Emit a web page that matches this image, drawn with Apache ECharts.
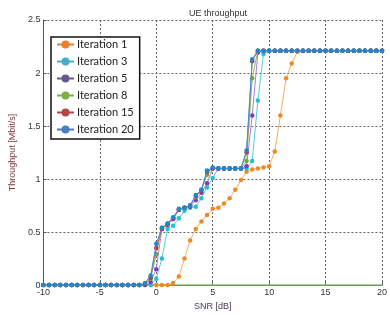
<!DOCTYPE html>
<html>
<head>
<meta charset="utf-8">
<script src="https://cdn.jsdelivr.net/npm/echarts@6/dist/echarts.min.js"></script>
<style>
  html, body { margin: 0; padding: 0; background: #fff; }
  #chart { width: 390px; height: 316px; }
</style>
</head>
<body>
<div id="chart"></div>
<script>
  // SNR sample points [dB]
  const snr = [-10, -9.5, -9, -8.5, -8, -7.5, -7, -6.5, -6, -5.5, -5, -4.5, -4, -3.5, -3, -2.5, -2, -1.5,
    -1, -0.5, 0, 0.5, 1, 1.5, 2, 2.5, 3, 3.5, 4, 4.5, 5, 5.5, 6, 6.5, 7, 7.5, 8, 8.5, 9, 9.5, 10,
    10.5, 11, 11.5, 12, 12.5, 13, 13.5, 14, 14.5, 15, 15.5, 16, 16.5, 17, 17.5, 18, 18.5, 19, 19.5, 20]

  const zeros = [0, 0, 0, 0, 0, 0, 0, 0, 0, 0, 0, 0, 0, 0, 0, 0, 0, 0]  // -10 .. -1.5
  const top12 = [2.21, 2.21, 2.21, 2.21, 2.21, 2.21, 2.21, 2.21, 2.21, 2.21, 2.21, 2.21]

  // throughput [Mbit/s], -1 dB onwards
  const iter1 = zeros.concat([0, 0, 0, 0, 0, 0.02, 0.08, 0.25, 0.42, 0.53, 0.6, 0.66, 0.72, 0.73, 0.77, 0.82, 0.9, 0.99,
    1.07, 1.09, 1.1, 1.11, 1.12, 1.26, 1.6, 1.95, 2.09, 2.2, 2.21, 2.21, 2.21, 2.21, 2.21, 2.21, 2.21, 2.21, 2.21, 2.21,
    2.21, 2.21, 2.21, 2.21, 2.21])
  const iter3 = zeros.concat([0, 0, 0.06, 0.25, 0.53, 0.56, 0.63, 0.7, 0.73, 0.74, 0.82, 0.92, 1.01, 1.1, 1.1, 1.1, 1.1,
    1.1, 1.1, 1.17, 1.74, 2.18, 2.21, 2.21, 2.21, 2.21, 2.21, 2.21, 2.21, 2.21, 2.21, 2.21, 2.21, 2.21, 2.21, 2.21, 2.21,
    2.21, 2.21, 2.21, 2.21, 2.21, 2.21])
  const iter5 = zeros.concat([0, 0.03, 0.15, 0.53, 0.57, 0.62, 0.71, 0.73, 0.74, 0.8, 0.87, 0.96, 1.1, 1.1, 1.1, 1.1, 1.1,
    1.1, 1.12, 1.6, 2.19, 2.21]).concat(top12).concat(top12).concat([2.21])
  const iter8 = zeros.concat([0.01, 0.06, 0.29, 0.54, 0.58, 0.63, 0.71, 0.73, 0.75, 0.83, 0.9, 1.04, 1.1, 1.1, 1.1, 1.1,
    1.1, 1.1, 1.17, 1.95, 2.21, 2.21]).concat(top12).concat(top12).concat([2.21])
  const iter15 = zeros.concat([0.01, 0.07, 0.35, 0.53, 0.57, 0.63, 0.71, 0.73, 0.75, 0.84, 0.89, 1.07, 1.1, 1.1, 1.1, 1.1,
    1.1, 1.1, 1.25, 2.11, 2.21, 2.21]).concat(top12).concat(top12).concat([2.21])
  const iter20 = zeros.concat([0.02, 0.09, 0.39, 0.54, 0.58, 0.64, 0.72, 0.73, 0.75, 0.85, 0.9, 1.08, 1.11, 1.1, 1.1, 1.1,
    1.1, 1.1, 1.27, 2.13, 2.21, 2.21]).concat(top12).concat(top12).concat([2.21])

  const baseX = [-1, 20]
  const baseY = [0, 0]

  const names = ['Iteration 1', 'Iteration 3', 'Iteration 5', 'Iteration 8', 'Iteration 15', 'Iteration 20']
  const values = [iter1, iter3, iter5, iter8, iter15, iter20]
  const markerColors = ['#ee8a22', '#22c0cf', '#7a3cc8', '#72a83a', '#b03a3a', '#1f87cf']
  const lineColors = ['#f4ae64', '#52ccd8', '#a77ee0', '#8fbf5a', '#c46060', '#3a94d6']
  const legendColors = ['#ed7d31', '#4bacc6', '#6a5a8c', '#7fae46', '#b34746', '#4a7ec0']

  const series = [{
    name: 'base',
    type: 'line',
    data: baseX.map((x, i) => [x, baseY[i]]),
    showSymbol: false,
    silent: true,
    lineStyle: { color: '#8cc870', width: 1.5 },
    z: 1
  }]
  names.forEach((name, k) => {
    series.push({
      name: name,
      type: 'line',
      data: snr.map((x, i) => [x, values[k][i]]),
      symbol: 'circle',
      symbolSize: 4.5,
      itemStyle: { color: markerColors[k] },
      lineStyle: { color: lineColors[k], width: 1 },
      emphasis: { disabled: true },
      z: 2 + k
    })
  })

  const chart = echarts.init(document.getElementById('chart'), null, { renderer: 'canvas' })
  chart.setOption({
    animation: false,
    title: {
      text: 'UE throughput',
      left: 213,
      top: 4,
      textAlign: 'center',
      textStyle: { fontSize: 9, fontWeight: 'normal', color: '#333', fontFamily: 'Liberation Sans' }
    },
    legend: {
      data: names.map((n, k) => ({ name: n, itemStyle: { color: legendColors[k] }, lineStyle: { color: legendColors[k], width: 2 } })),
      orient: 'vertical',
      left: 51,
      top: 37,
      itemWidth: 17,
      itemHeight: 10,
      itemGap: 6,
      padding: [2, 6, 4, 5],
      backgroundColor: '#fff',
      borderColor: '#111',
      borderWidth: 1.5,
      borderRadius: 0,
      textStyle: { fontSize: 11, color: '#222', fontFamily: 'Lato', padding: [0, 0, 0, -2] }
    },
    grid: { left: 36, right: 4, top: 20, bottom: 28, containLabel: false },
    xAxis: {
      type: 'value',
      min: -10,
      max: 20,
      interval: 5,
      name: 'SNR [dB]',
      nameLocation: 'middle',
      nameGap: 14,
      nameTextStyle: { fontSize: 9, color: '#4a3c58', fontFamily: 'Liberation Sans' },
      axisLine: { onZero: false, lineStyle: { color: '#555', width: 1 } },
      axisTick: { inside: true, length: 3, lineStyle: { color: '#555' } },
      axisLabel: { fontSize: 9, color: '#333', margin: 3, fontFamily: 'Liberation Sans' },
      splitLine: { show: true, lineStyle: { color: '#666', type: [2, 2], width: 1 } }
    },
    yAxis: {
      type: 'value',
      min: 0,
      max: 2.5,
      interval: 0.5,
      name: 'Throughput [Mbit/s]',
      nameLocation: 'middle',
      nameGap: 22,
      nameTextStyle: { fontSize: 9, color: '#7a3a3a', fontFamily: 'Liberation Sans' },
      axisLine: { show: true, onZero: false, lineStyle: { color: '#555', width: 1 } },
      axisTick: { inside: true, length: 3, lineStyle: { color: '#555' } },
      axisLabel: { fontSize: 9, color: '#333', margin: 3, fontFamily: 'Liberation Sans' },
      splitLine: { show: true, lineStyle: { color: '#666', type: [2, 2], width: 1 } }
    },
    series: series
  })
</script>
</body>
</html>
